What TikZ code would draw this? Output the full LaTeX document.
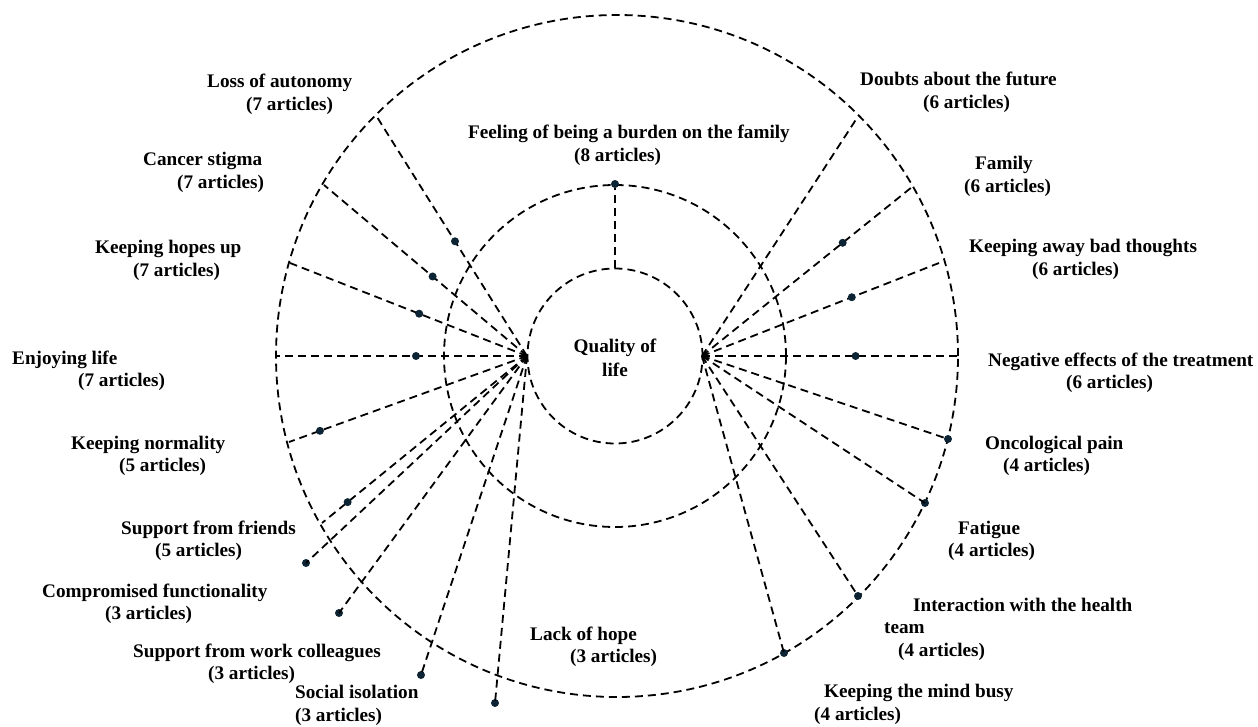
\documentclass[tikz,border=0pt]{standalone}
\usepackage{fontspec}
\setmainfont{Liberation Serif}
\definecolor{dotblue}{RGB}{12,36,52}
\tikzset{
  ring/.style={draw, dash pattern=on 8pt off 5pt, line width=1.8pt},
  spoke/.style={draw, dash pattern=on 8pt off 5pt, line width=1.8pt},
  dotmark/.style={circle, fill=dotblue, inner sep=0pt, minimum size=8pt},
  lbl/.style={font=\fontsize{19.2}{22.5}\selectfont\bfseries, align=left, inner sep=0pt, anchor=base west}
}
\begin{document}
\begin{tikzpicture}[x=1pt,y=-1pt]
  \useasboundingbox (0,0) rectangle (1258,727);
  \coordinate (mid) at (615,356);
  \coordinate (outc) at (617,356);
  \coordinate (hubL) at (527,356);
  \coordinate (hubR) at (702,356);

  % three rings
  \draw[ring] (mid) circle (87.5pt);
  \draw[ring] (mid) circle (171pt);
  \draw[ring] (outc) circle (341pt);

  \node (qol) [font=\fontsize{19.2}{23.5}\selectfont\bfseries, align=center, inner sep=0pt, anchor=base] at (615,376) {Quality of\\life};

  % top theme
  \coordinate (burdenS) at (615,268.5);
  \node (burdenD) [dotmark] at (615,184) {};
  \draw[spoke] (burdenS) -- (burdenD);

  % left side
  \coordinate (autoE) at (377,117);
  \coordinate (stigmaE) at (324,185);
  \coordinate (hopesE) at (290,263);
  \coordinate (enjoyE) at (277,356);
  \coordinate (normalE) at (289,442);
  \coordinate (friendsE) at (322,523);
  \draw[spoke] (hubL) -- (autoE) node (autoD) [dotmark, pos=0.48] {};
  \draw[spoke] (hubL) -- (stigmaE) node (stigmaD) [dotmark, pos=0.465] {};
  \draw[spoke] (hubL) -- (hopesE) node (hopesD) [dotmark, pos=0.455] {};
  \draw[spoke] (hubL) -- (enjoyE) node (enjoyD) [dotmark, pos=0.444] {};
  \draw[spoke] (hubL) -- (normalE) node (normalD) [dotmark, pos=0.87] {};
  \draw[spoke] (hubL) -- (friendsE) node (friendsD) [dotmark, pos=0.875] {};
  \node (compD) [dotmark] at (306,563) {};
  \node (colleagD) [dotmark] at (339,613) {};
  \node (isolD) [dotmark] at (421,675) {};
  \node (lackD) [dotmark] at (495,703) {};
  \draw[spoke] (hubL) -- (compD.center);
  \draw[spoke] (hubL) -- (colleagD.center);
  \draw[spoke] (hubL) -- (isolD.center);
  \draw[spoke] (hubL) -- (lackD.center);

  % right side
  \coordinate (doubtsE) at (857,118);
  \coordinate (familyE) at (912,187);
  \coordinate (badE) at (939,263);
  \coordinate (negE) at (958,356);
  \draw[spoke] (hubR) -- (doubtsE);
  \draw[spoke] (hubR) -- (familyE) node (familyD) [dotmark, pos=0.67] {};
  \draw[spoke] (hubR) -- (badE) node (badD) [dotmark, pos=0.632] {};
  \draw[spoke] (hubR) -- (negE) node (negD) [dotmark, pos=0.6] {};
  \node (oncoD) [dotmark] at (948,439) {};
  \node (fatigueD) [dotmark] at (925,503) {};
  \node (teamD) [dotmark] at (858,596) {};
  \node (busyD) [dotmark] at (784,653) {};
  \draw[spoke] (hubR) -- (oncoD.center);
  \draw[spoke] (hubR) -- (fatigueD.center);
  \draw[spoke] (hubR) -- (teamD.center);
  \draw[spoke] (hubR) -- (busyD.center);

  % labels
  \node (burden) [lbl] at (468,161.5) {Feeling of being a burden on the family\\\hspace*{106pt}(8 articles)};
  \node (auto) [lbl] at (207,110.5) {Loss of autonomy\\\hspace*{39pt}(7 articles)};
  \node (stigma) [lbl] at (143,188.5) {Cancer stigma\\\hspace*{34pt}(7 articles)};
  \node (hopes) [lbl] at (95,276.5) {Keeping hopes up\\\hspace*{38pt}(7 articles)};
  \node (enjoy) [lbl] at (12,386.5) {Enjoying life\\\hspace*{66pt}(7 articles)};
  \node (normal) [lbl] at (71,471.5) {Keeping normality\\\hspace*{48pt}(5 articles)};
  \node (friends) [lbl] at (121,556.5) {Support from friends\\\hspace*{34pt}(5 articles)};
  \node (comp) [lbl] at (42,619.5) {Compromised functionality\\\hspace*{63pt}(3 articles)};
  \node (colleag) [lbl] at (133,679.5) {Support from work colleagues\\\hspace*{75pt}(3 articles)};
  \node (isol) [lbl] at (295,721) {Social isolation\\(3 articles)};
  \node (lack) [lbl] at (530,662.5) {Lack of hope\\\hspace*{40pt}(3 articles)};
  \node (doubts) [lbl] at (860,108.5) {Doubts about the future\\\hspace*{63pt}(6 articles)};
  \node (family) [lbl] at (964,192.5) {\hspace*{11pt}Family\\(6 articles)};
  \node (bad) [lbl] at (969,275.5) {Keeping away bad thoughts\\\hspace*{63pt}(6 articles)};
  \node (neg) [lbl] at (988,388.5) {Negative effects of the treatment\\\hspace*{78pt}(6 articles)};
  \node (onco) [lbl] at (985,471.5) {Oncological pain\\\hspace*{18pt}(4 articles)};
  \node (fatigue) [lbl] at (948,556.5) {\hspace*{10pt}Fatigue\\(4 articles)};
  \node (team) [lbl] at (884,656) {\hspace*{29pt}Interaction with the health\\team\\\hspace*{14pt}(4 articles)};
  \node (busy) [lbl] at (814,720) {\hspace*{10pt}Keeping the mind busy\\(4 articles)};
\end{tikzpicture}
\end{document}
